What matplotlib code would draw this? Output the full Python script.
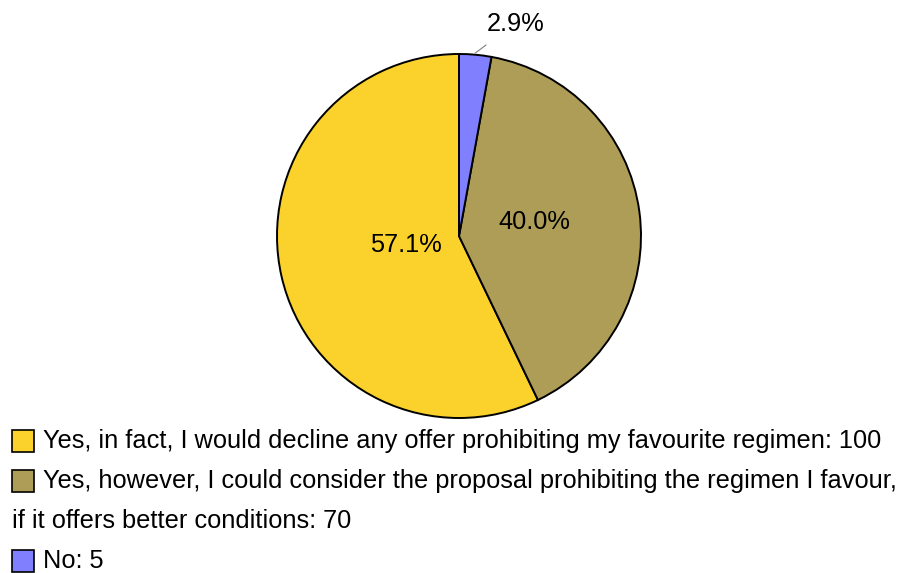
import numpy as np
import matplotlib
matplotlib.use("Agg")
import matplotlib.pyplot as plt
from matplotlib.patches import Rectangle

plt.rcParams['font.family'] = ['Liberation Sans', 'DejaVu Sans']

labels = [
    "Yes, in fact, I would decline any offer prohibiting my favourite regimen: 100",
    "Yes, however, I could consider the proposal prohibiting the regimen I favour,\n"
    "if it offers better conditions: 70",
    "No: 5",
]
values = [100, 70, 5]
colors = ["#FBD12B", "#AE9D56", "#8080FF"]

W, H = 919, 573
fig = plt.figure(figsize=(W / 100, H / 100), dpi=100)

# pie placed in pixel terms: centre and radius
cx, cy, r = 459, 236, 182
ax = fig.add_axes([(cx - r) / W, (H - cy - r) / H, 2 * r / W, 2 * r / H])
wedges, _ = ax.pie(values, colors=colors, startangle=90, counterclock=True,
                   wedgeprops=dict(edgecolor="black", linewidth=1.4))
ax.set_xlim(-1, 1)
ax.set_ylim(-1, 1)
ax.set_aspect("equal")

total = sum(values)
fs = 18.3
dists = [0.30, 0.42]
for w, v, d in zip(wedges[:2], values[:2], dists):
    mid = np.deg2rad((w.theta1 + w.theta2) / 2)
    ax.text(d * np.cos(mid), d * np.sin(mid) + 0.02, f"{100 * v / total:.1f}%",
            ha="center", va="center", fontsize=fs)

# small slice: label outside with leader line
w = wedges[2]
mid = np.deg2rad((w.theta1 + w.theta2) / 2)
ax.plot([1.01 * np.cos(mid), 0.148], [1.01 * np.sin(mid), 1.049],
        color="gray", lw=0.8, clip_on=False)
ax.text(0.155, 1.165, f"{100 * values[2] / total:.1f}%",
        ha="left", va="center", fontsize=fs, clip_on=False)

# legend, drawn by hand so the wrapped line starts under the box
row_y = [441, 481, 561]
box = 22
for lab, c, y in zip(labels, colors, row_y):
    fig.add_artist(Rectangle((12 / W, 1 - (y + box / 2) / H), box / W, box / H,
                             facecolor=c, edgecolor="black", linewidth=1.2,
                             transform=fig.transFigure))
    lines = lab.split("\n")
    fig.text(43 / W, 1 - y / H, lines[0], ha="left", va="center", fontsize=fs)
    for k, extra in enumerate(lines[1:], start=1):
        fig.text(12 / W, 1 - (y + 40 * k) / H, extra, ha="left", va="center",
                 fontsize=fs)

fig.savefig("out.png", dpi=100)
